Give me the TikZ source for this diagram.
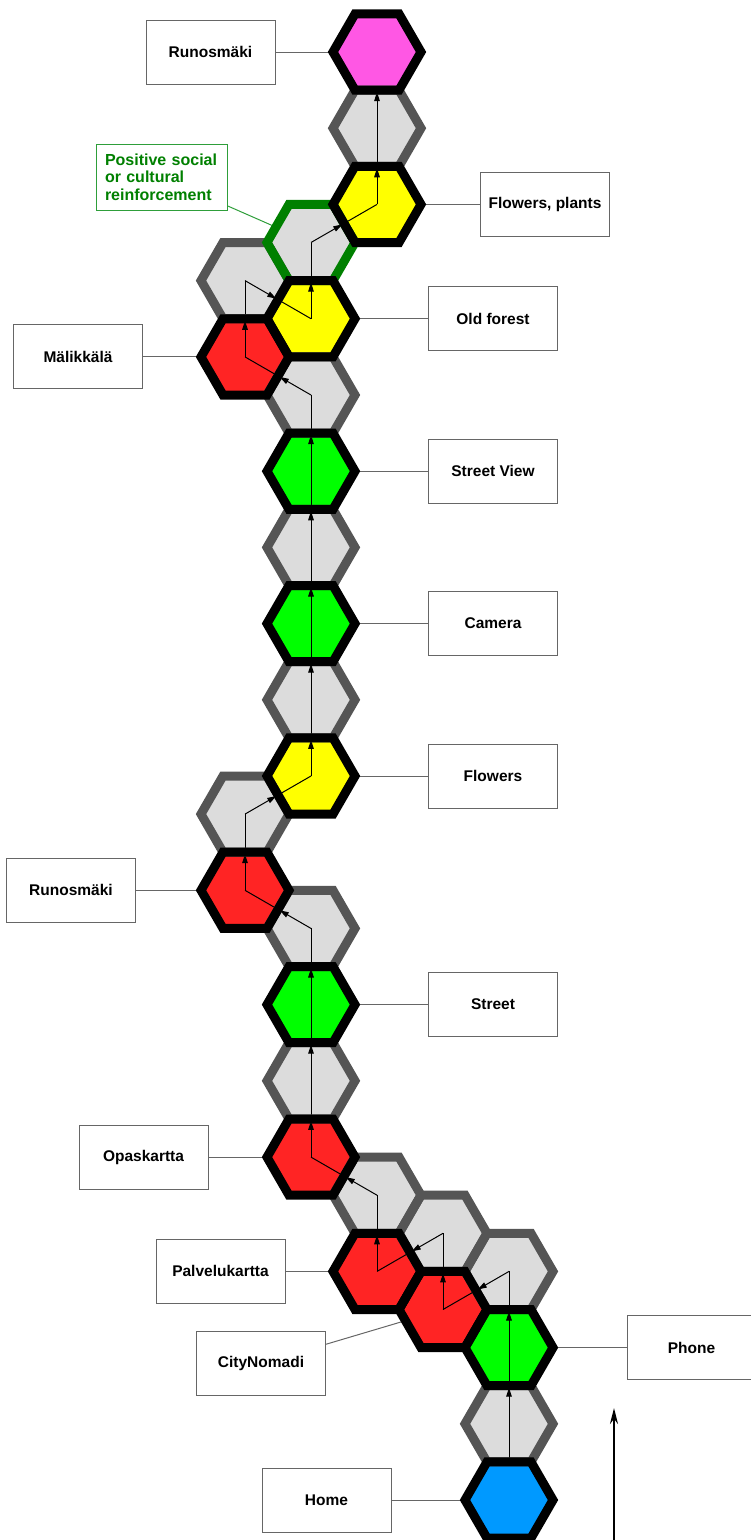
\documentclass[tikz,border=0pt]{standalone}
\usepackage{fontspec}
\setmainfont{Liberation Sans}
\usetikzlibrary{shapes.geometric,calc,arrows.meta}
\definecolor{hred}{HTML}{FF2424}
\definecolor{hyel}{HTML}{FFFF00}
\definecolor{hgrn}{HTML}{00FF00}
\definecolor{hblu}{HTML}{0099FF}
\definecolor{hmag}{HTML}{FF57E4}
\definecolor{hgry}{HTML}{DCDCDC}
\definecolor{hedge}{HTML}{555555}
\definecolor{dgrn}{HTML}{008000}
\definecolor{lgrn}{HTML}{2E9E3A}
\definecolor{boxedge}{HTML}{666666}
\newcommand\hseg[2]{%
  \draw[arrline,-{Latex[length=11pt,width=6pt]}] (#1.center) -- ($(#1.center)!0.5!(#2.center)$);
  \draw[arrline] ($(#1.center)!0.5!(#2.center)$) -- (#2.center);}
\begin{document}
\begin{tikzpicture}[x=1pt,y=-1pt,
  hexfill/.style={regular polygon, regular polygon sides=6, minimum size=88pt, inner sep=0pt, outer sep=0pt, draw=none},
  hexline/.style={regular polygon, regular polygon sides=6, minimum size=88pt, inner sep=0pt, outer sep=0pt, line width=9pt, line join=miter},
  lbl/.style={draw=boxedge, line width=1pt, fill=white, minimum width=129pt, minimum height=64pt, inner sep=0pt, font=\fontsize{15.5}{18}\selectfont\bfseries},
  glbl/.style={draw=lgrn, line width=1pt, fill=white, text=dgrn, align=left, text width=113pt, inner xsep=9pt, inner ysep=0pt, minimum height=66pt, font=\fontsize{16}{17.7}\selectfont\bfseries},
  conn/.style={draw=boxedge, line width=1pt},
  gconn/.style={draw=lgrn, line width=1pt},
  arrline/.style={draw=black, line width=1pt}]
\clip (0,0) rectangle (751,1540);
% pass 1: fills
\foreach \n/\x/\y/\c in {home/509/1500/hblu, g1/509/1423.8/hgry, phone/509/1347.6/hgrn, g2/509/1271.4/hgry,
  cn/443/1309.5/hred, g3/443/1233.3/hgry, pk/377/1271.4/hred, g4/377/1195.2/hgry,
  op/311/1157.1/hred, g5/311/1080.8/hgry, st/311/1004.6/hgrn, g6/311/928.4/hgry,
  rn/245/890.3/hred, g7/245/814.1/hgry, fl/311/776/hyel, g8/311/699.8/hgry,
  cam/311/623.6/hgrn, g9/311/547.4/hgry, sv/311/471.2/hgrn, g10/311/395/hgry,
  mk/245/356.9/hred, g11/245/280.6/hgry, of/311/318.7/hyel, g12/311/242.5/hgry,
  fp/377/204.4/hyel, g13/377/128.2/hgry, rt/377/52/hmag}
  \node[hexfill, fill=\c] (\n) at (\x,\y) {};
% label boxes
\node[lbl] (lrt) at (210.5,52) {Runosmäki};
\node[lbl] (lfp) at (545,204.4) {Flowers, plants};
\node[lbl] (lof) at (493,318.7) {Old forest};
\node[lbl] (lmk) at (78,356.9) {Mälikkälä};
\node[lbl] (lsv) at (493,471.2) {Street View};
\node[lbl] (lcam) at (493,623.6) {Camera};
\node[lbl] (lfl) at (493,776) {Flowers};
\node[lbl] (lrn) at (71,890.3) {Runosmäki};
\node[lbl] (lst) at (493,1004.6) {Street};
\node[lbl] (lop) at (143.5,1157.1) {Opaskartta};
\node[lbl] (lpk) at (220.5,1271.4) {Palvelukartta};
\node[lbl] (lcn) at (261,1363.5) {CityNomadi};
\node[lbl] (lph) at (691.5,1347.6) {Phone};
\node[lbl] (lhm) at (326.5,1500) {Home};
\node[glbl] (lgr) at (161.5,177) {Positive social\\or cultural\\reinforcement};
% connectors
\foreach \a/\b in {lrt/rt, lfp/fp, lof/of, lmk/mk, lsv/sv, lcam/cam, lfl/fl, lrn/rn, lst/st, lop/op, lpk/pk, lcn/cn, lph/phone, lhm/home}
  \draw[conn] (\a) -- (\b);
\draw[gconn] (lgr) -- (g12);
% route arrows
\draw[arrline] ($(home.center)!0.5!(g1.center)$) -- (g1.center);
\hseg{g1}{phone}\hseg{phone}{g2}\hseg{g2}{cn}\hseg{cn}{g3}\hseg{g3}{pk}\hseg{pk}{g4}
\hseg{g4}{op}\hseg{op}{g5}\hseg{g5}{st}\hseg{st}{g6}\hseg{g6}{rn}\hseg{rn}{g7}
\hseg{g7}{fl}\hseg{fl}{g8}\hseg{g8}{cam}\hseg{cam}{g9}\hseg{g9}{sv}\hseg{sv}{g10}
\hseg{g10}{mk}\hseg{mk}{g11}\hseg{g11}{of}\hseg{of}{g12}\hseg{g12}{fp}\hseg{fp}{g13}
\draw[arrline,-{Latex[length=11pt,width=6pt]}] (g13.center) -- ($(g13.center)!0.5!(rt.center)$);
% pass 3: strokes
\foreach \n in {g1,g2,g3,g4,g5,g6,g7,g8,g9,g10,g11,g13}
  \node[hexline, draw=hedge] at (\n) {};
\node[hexline, draw=dgrn] at (g12) {};
\foreach \n in {home,phone,cn,pk,op,st,rn,fl,cam,sv,mk,of,fp,rt}
  \node[hexline, draw=black] at (\n) {};
% time arrow
\coordinate (abot) at (614,1545);
\coordinate (atop) at (614,1408);
\draw[line width=2pt,-{Stealth[length=16pt,width=8pt]}] (abot) -- (atop);
\end{tikzpicture}
\end{document}
